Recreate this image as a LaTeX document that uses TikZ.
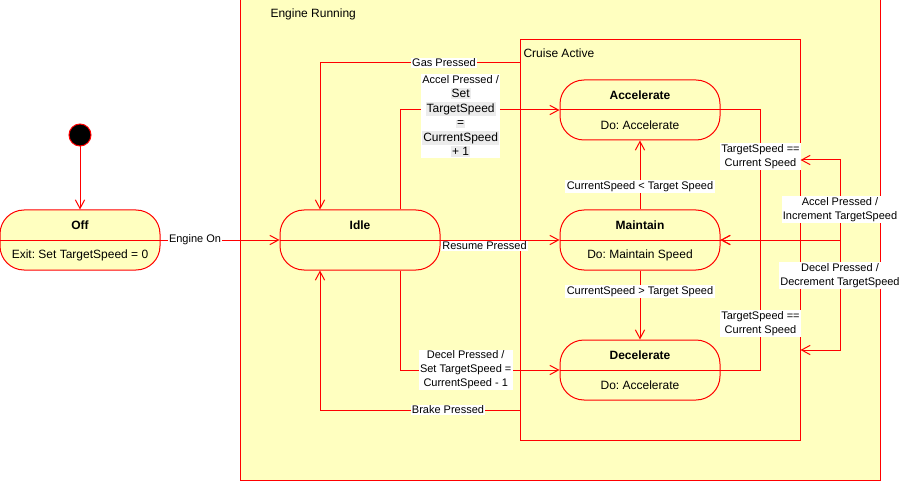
\documentclass[tikz,border=0pt]{standalone}
\usepackage{fontspec}
\setmainfont{Liberation Sans}
\usetikzlibrary{arrows.meta}
\frenchspacing
\definecolor{statefill}{HTML}{FFFFC0}
\definecolor{edgered}{HTML}{FF0000}
\definecolor{hlgrey}{HTML}{ECECEC}
\newcommand{\hlline}[1]{{\fontsize{9}{10.8}\selectfont\setlength{\fboxsep}{0.8pt}\colorbox{hlgrey}{#1}}}
\tikzset{
  state/.style={draw=edgered, fill=statefill, rounded corners=18pt, minimum width=120pt, minimum height=45pt, inner sep=0pt},
  region/.style={draw=edgered, fill=statefill, inner sep=0pt},
  title/.style={font=\bfseries\fontsize{9}{11}\selectfont, inner sep=0pt},
  body/.style={font=\fontsize{9}{11}\selectfont, inner sep=0pt},
  edge/.style={draw=edgered, -{Straight Barb[length=6.5pt,width=7pt]}},
  lbl/.style={fill=white, inner sep=1pt, font=\fontsize{8.25}{10.5}\selectfont, align=center}
}
\begin{document}
\begin{tikzpicture}[x=0.75pt, y=-0.75pt, line width=0.75pt]
              \useasboundingbox (0,0) rectangle (903,481);
              \node[region, minimum width=480pt, minimum height=360pt] (engine) at (560,240) {};
              \node[body, anchor=west] (enginelbl) at (270,14) {Engine Running};
              \node[region, minimum width=210pt, minimum height=300pt] (cruise) at (660,240) {};
              \node[body, anchor=west] (cruiselbl) at (523,53) {Cruise Active};
              \node[circle, fill=black, draw=edgered, minimum size=16.5pt, inner sep=0pt] (init) at (80,135) {};
              \node[state] (off) at (80,240) {};
              \draw[edgered] (off.west) -- (off.east);
              \node[title] (offtitle) at ([yshift=11.25pt]off.center) {Off};
              \node[body] (offbody) at ([yshift=-11.25pt]off.center) {Exit: Set TargetSpeed = 0};
              \node[state] (idle) at (360,240) {};
              \draw[edgered] (idle.west) -- (idle.east);
              \node[title] (idletitle) at ([yshift=11.25pt]idle.center) {Idle};
              \node[state] (accel) at (640,110) {};
              \draw[edgered] (accel.west) -- (accel.east);
              \node[title] (acceltitle) at ([yshift=11.25pt]accel.center) {Accelerate};
              \node[body] (accelbody) at ([yshift=-11.25pt]accel.center) {Do: Accelerate};
              \node[state] (maintain) at (640,240) {};
              \draw[edgered] (maintain.west) -- (maintain.east);
              \node[title] (maintaintitle) at ([yshift=11.25pt]maintain.center) {Maintain};
              \node[body] (maintainbody) at ([yshift=-11.25pt]maintain.center) {Do: Maintain Speed};
              \node[state] (decel) at (640,370) {};
              \draw[edgered] (decel.west) -- (decel.east);
              \node[title] (deceltitle) at ([yshift=11.25pt]decel.center) {Decelerate};
              \node[body] (decelbody) at ([yshift=-11.25pt]decel.center) {Do: Accelerate};
              \coordinate (gasstart) at (520,63);
              \coordinate (brakestart) at (520,410);
              \coordinate (loopstart) at (760,240);
              \draw[edge] (init) -- (off);
              \draw[edge] (off) -- node[lbl, pos=0.29] {Engine On} (idle);
              \draw[edge] (gasstart) -| node[lbl, pos=0.19] {Gas Pressed} ([xshift=-30pt]idle.north);
              \draw[edge] ([xshift=30pt]idle.north) |- node[lbl, pos=0.69, yshift=-4.5pt, font=\fontsize{8.25}{10.8}\selectfont] {Accel Pressed /\\\hlline{Set}\\\hlline{TargetSpeed}\\\hlline{=}\\\hlline{CurrentSpeed}\\\hlline{+ 1}} (accel.west);
              \draw[edge] (idle) -- node[lbl, pos=0, anchor=north west] {Resume Pressed} (maintain);
              \draw[edge] ([xshift=30pt]idle.south) |- node[lbl, pos=0.706] {Decel Pressed /\\Set TargetSpeed =\\CurrentSpeed - 1} (decel.west);
              \draw[edge] (brakestart) -| node[lbl, pos=0.18] {Brake Pressed} ([xshift=-30pt]idle.south);
              \draw[edge] (maintain) -- node[lbl, pos=0.33] {CurrentSpeed < Target Speed} (accel);
              \draw[edge] (maintain) -- node[lbl, pos=0.3] {CurrentSpeed > Target Speed} (decel);
              \draw[edge] (accel.east) -- ++(30pt,0) |- node[lbl, pos=0.18] {TargetSpeed ==\\Current Speed} (maintain.east);
              \draw[edge] (decel.east) -- ++(30pt,0) |- node[lbl, pos=0.18] {TargetSpeed ==\\Current Speed} (maintain.east);
              \draw[edge] (loopstart) -- ++(60pt,0) |- node[lbl, pos=0.19] {Accel Pressed /\\Increment TargetSpeed} ([yshift=60pt]cruise.east);
              \draw[edge] (loopstart) -- ++(60pt,0) |- node[lbl, pos=0.16] {Decel Pressed /\\Decrement TargetSpeed} ([yshift=-82.5pt]cruise.east);
            \end{tikzpicture}
\end{document}
